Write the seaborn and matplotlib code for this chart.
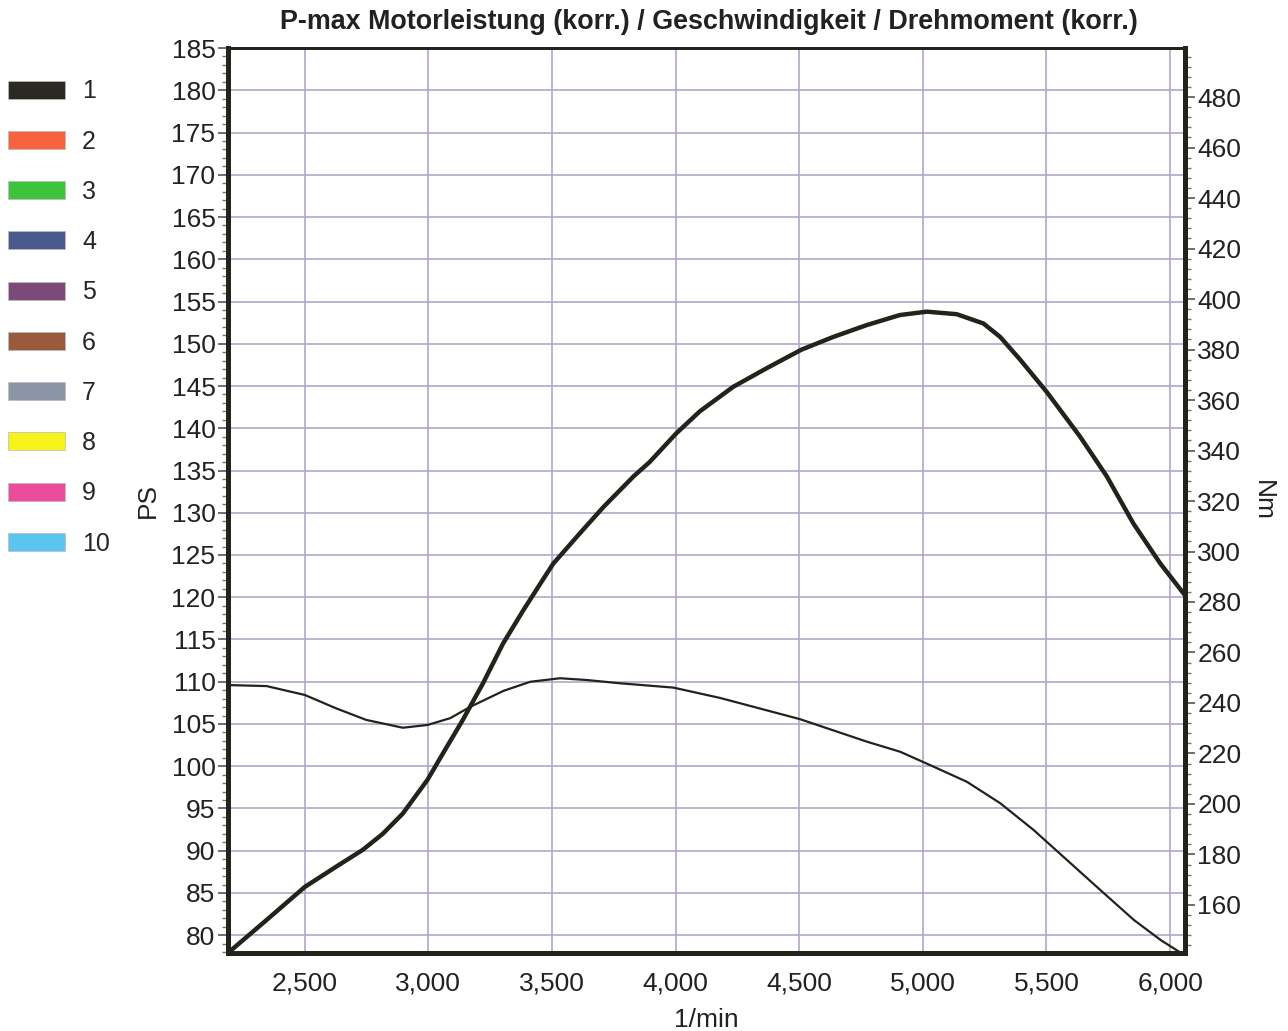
import numpy as np
import pandas as pd
import matplotlib
matplotlib.use('Agg')
import matplotlib.pyplot as plt
from matplotlib.patches import Patch
from matplotlib.ticker import MultipleLocator, FuncFormatter
import seaborn as sns

# engine speed (1/min) and readings from the dyno sheet
rpm_power = [2190, 2346, 2500, 2627, 2735, 2816, 2897, 2997, 3059, 3140, 3221,
             3302, 3383, 3477, 3506, 3614, 3709, 3830, 3895, 4003, 4098, 4233, 4368,
             4509, 4637, 4772, 4907, 5016, 5137, 5245, 5313, 5394, 5501, 5636, 5744,
             5852, 5960, 6061]
power_ps = [77.9, 81.8, 85.7, 88.1, 90.1, 92.0, 94.4, 98.4, 101.5, 105.5, 109.8,
            114.5, 118.4, 122.7, 124.0, 127.6, 130.7, 134.3, 136.0, 139.4, 142.0, 144.9, 147.1,
            149.3, 150.8, 152.2, 153.4, 153.8, 153.5, 152.4, 150.8, 148.1, 144.3, 139.0, 134.3,
            128.7, 124.0, 120.2]

rpm_torque = [2190, 2346, 2500, 2627, 2749, 2897, 2997, 3089, 3170, 3304, 3412, 3533,
              3641, 3776, 3991, 4180, 4234, 4503, 4773, 4908, 5043, 5178, 5313, 5448,
              5583, 5718, 5853, 5962, 6036]
torque_nm = [247.1, 246.7, 243.2, 237.9, 233.3, 230.2, 231.3, 234.0, 238.5, 244.8, 248.4, 249.8,
             249.1, 247.8, 246.1, 242.0, 240.6, 233.6, 224.7, 220.7, 214.8, 208.8, 200.3, 189.7,
             177.8, 165.9, 154.1, 146.1, 141.5]

legend_labels = ['1', '2', '3', '4', '5', '6', '7', '8', '9', '10']
legend_colors = ['#2a2a22', '#f8623e', '#3ec43c', '#4b5a8e', '#7b4a7a',
                 '#985a3a', '#8a95a6', '#f6f21c', '#ec4c9c', '#5ac6f0']

title = 'P-max Motorleistung (korr.) / Geschwindigkeit / Drehmoment (korr.)'

sns.set_style('white')
plt.rcParams['font.family'] = ['Liberation Sans Narrow', 'Liberation Sans', 'DejaVu Sans']

ink = '#23231c'
grid_col = '#a9aac8'

fig = plt.figure(figsize=(12.88, 10.31), dpi=100)
ax = fig.add_axes([0.177, 0.0757, 0.743, 0.8777])

df_p = pd.DataFrame({'rpm': rpm_power, 'ps': power_ps})
df_t = pd.DataFrame({'rpm': rpm_torque, 'nm': torque_nm})

sns.lineplot(data=df_p, x='rpm', y='ps', ax=ax, color=ink, linewidth=3.2, zorder=5)
ax.set_xlim(2190, 6060)
ax.set_ylim(77.9, 185)

ax2 = ax.twinx()
sns.lineplot(data=df_t, x='rpm', y='nm', ax=ax2, color=ink, linewidth=1.6, zorder=5)
ax2.set_ylim(141, 499.4)
ax2.set_xlim(2190, 6060)

# grid
ax.xaxis.set_major_locator(MultipleLocator(500))
ax.xaxis.set_minor_locator(MultipleLocator(100))
ax.yaxis.set_major_locator(MultipleLocator(5))
ax.yaxis.set_minor_locator(MultipleLocator(1))
ax.grid(True, which='major', color=grid_col, linewidth=1.2)
ax.set_axisbelow(True)
ax.xaxis.set_major_formatter(FuncFormatter(lambda v, p: f'{int(v):,}'))

ax2.set_yticks(np.arange(160, 481, 20))
ax2.yaxis.set_minor_locator(MultipleLocator(4))

for a in (ax, ax2):
    for side in ['left', 'right', 'bottom']:
        a.spines[side].set_linewidth(3.5)
        a.spines[side].set_color(ink)
    a.spines['top'].set_linewidth(2)
    a.spines['top'].set_color(ink)

ax.tick_params(axis='both', which='major', direction='out', length=7, width=1.2,
               color='#555555', labelsize=19, labelcolor='#222222', pad=2)
ax.tick_params(axis='both', which='minor', direction='out', length=4, width=1,
               color='#777777')
ax.tick_params(axis='x', which='major', pad=6)
ax2.tick_params(axis='y', which='major', direction='out', length=7, width=1.2,
                color='#555555', labelsize=19, labelcolor='#222222', pad=2)
ax2.tick_params(axis='y', which='minor', direction='out', length=4, width=1,
                color='#777777')

ax.set_xlabel('1/min', fontsize=19, color='#222222', labelpad=9)
ax.set_ylabel('PS', fontsize=19, color='#222222', labelpad=8)
ax2.set_ylabel('Nm', fontsize=19, color='#222222', rotation=-90, labelpad=24)

fig.text(0.5505, 0.9787, title, ha='center', va='center', fontsize=19.4,
         fontweight='bold', color='#222222', family=['Liberation Sans', 'DejaVu Sans'])

handles = [Patch(facecolor=c, edgecolor='#bbbbbb', linewidth=0.5) for c in legend_colors]
fig.legend(handles, legend_labels, loc='upper left', bbox_to_anchor=(0.0062, 0.923),
           frameon=False, fontsize=18, handlelength=2.28, handleheight=0.72,
           labelspacing=1.05, handletextpad=0.68, borderaxespad=0, borderpad=0)

fig.savefig('out.png', dpi=100)
